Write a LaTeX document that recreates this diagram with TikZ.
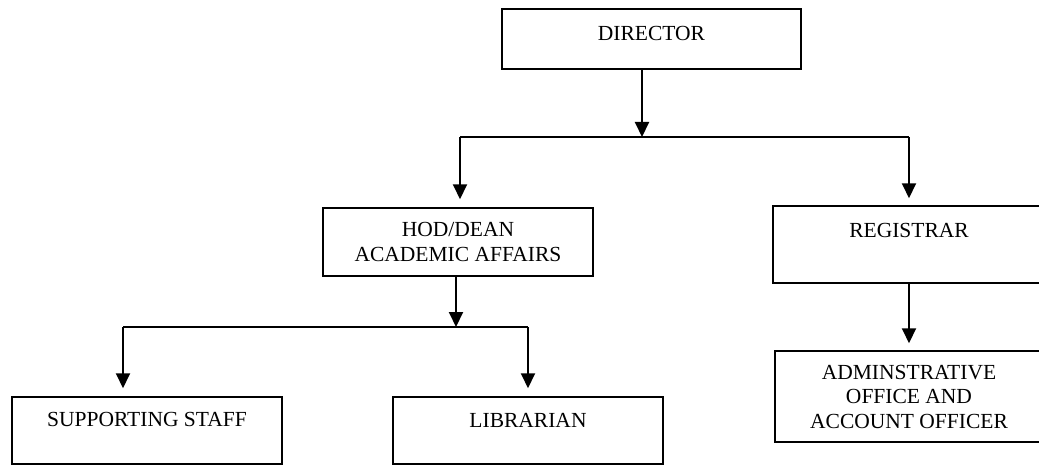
\documentclass[tikz,border=0pt]{standalone}
\usepackage{fontspec}
\setmainfont{Liberation Serif}
\usepackage{tikz}
\usetikzlibrary{arrows.meta}
\tikzset{every picture/.style={x=1pt,y=-1pt,line width=1.6pt},
  post/.style={draw=black, line width=1.5pt, align=center, inner sep=0pt,
    font=\fontsize{21.5}{24.5}\selectfont},
  arr/.style={-{Triangle[length=15pt,width=14pt]}, line width=2pt}}

\begin{document}
\begin{tikzpicture}
  \clip (0,0) rectangle (1039,468);

  \node[post, minimum width=299pt, minimum height=60pt, text depth=12pt](dir) at (651.5, 39){DIRECTOR};
  \node[post, minimum width=270pt, minimum height=68pt](hod) at (458, 242){HOD/DEAN\\ACADEMIC AFFAIRS};
  \node[post, minimum width=272pt, minimum height=77pt, text depth=29pt](reg) at (909, 244.5){REGISTRAR};
  \node[post, minimum width=270pt, minimum height=67pt, text depth=23pt](sup) at (147, 430.5){SUPPORTING STAFF};
  \node[post, minimum width=270pt, minimum height=67pt, text depth=21pt](lib) at (528, 430.5){LIBRARIAN};
  \node[post, minimum width=268pt, minimum height=91pt](adm) at (909, 396.5){ADMINSTRATIVE\\OFFICE AND\\ACCOUNT OFFICER};

  \coordinate (j1) at (642, 137);
  \coordinate (b1l) at (460, 137);
  \coordinate (b1r) at (909, 137);
  \coordinate (j2) at (456, 327);
  \coordinate (b2l) at (123, 327);
  \coordinate (b2r) at (528, 327);

  \draw[arr](dir.south -| j1)--(j1);
  \draw[-](b1l)--(b1r);
  \draw[arr](b1l)--([yshift=8pt]hod.north -| b1l);
  \draw[arr](b1r)--([yshift=7pt]reg.north);
  \draw[arr](hod.south -| j2)--(j2);
  \draw[-](b2l)--(b2r);
  \draw[arr](b2l)--([yshift=8pt]sup.north -| b2l);
  \draw[arr](b2r)--([yshift=8pt]lib.north);
  \draw[arr](reg.south)--([yshift=7pt]adm.north);
\end{tikzpicture}
\end{document}
